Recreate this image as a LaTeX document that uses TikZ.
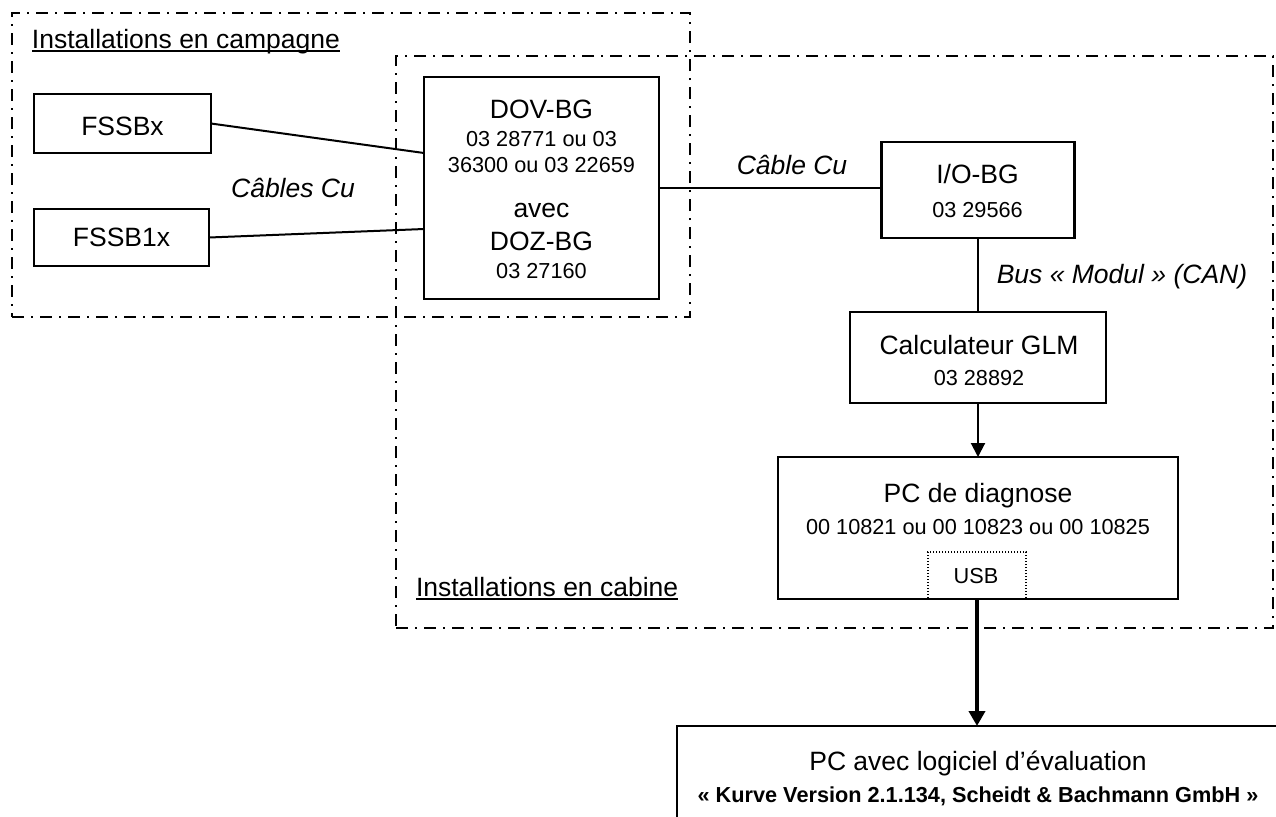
\documentclass[tikz,border=0pt]{standalone}
\usepackage{fontspec}
\setmainfont{Liberation Sans}
\usetikzlibrary{arrows.meta}
\newcommand{\mainsz}{\fontsize{13.25}{16}\selectfont}
\newcommand{\smallsz}{\fontsize{10.85}{13}\selectfont}
\begin{document}
\begin{tikzpicture}[x=0.5pt,y=-0.5pt,
  zone/.style={draw, line width=0.85pt, dash pattern=on 6pt off 3.5pt on 1pt off 3.5pt, inner sep=0pt, outer sep=0pt},
  box/.style={draw, line width=1.1pt, inner sep=0pt, outer sep=0pt},
  usbbox/.style={draw, line width=0.7pt, dash pattern=on 0.6pt off 0.9pt, inner sep=0pt, outer sep=0pt},
  txt/.style={inner sep=0pt, outer sep=0pt, anchor=base, font=\mainsz},
  stxt/.style={inner sep=0pt, outer sep=0pt, anchor=base, font=\smallsz},
  conn/.style={line width=1pt},
  arr/.style={line width=1pt, -{Triangle[width=7pt,length=7pt]}},
  bigarr/.style={line width=2pt, -{Triangle[width=8pt,length=7.5pt]}}
]
\useasboundingbox (0,0) rectangle (1276,816);
\clip (0,0) rectangle (1276,816);

% zones
\node[zone, minimum width=339pt, minimum height=152pt] (campagne) at (351,165) {};
\node[zone, minimum width=438.5pt, minimum height=286pt] (cabine) at (834.5,342) {};

% boxes
\node[box, minimum width=88.5pt, minimum height=29.5pt] (fssbx) at (122.5,123.5) {};
\node[box, minimum width=87.5pt, minimum height=28.5pt] (fssbux) at (121.5,237.5) {};
\node[box, minimum width=117.5pt, minimum height=111pt] (dov) at (541.5,188) {};
\node[box, minimum width=96.5pt, minimum height=48pt] (io) at (978,190) {};
\node[box, minimum width=128pt, minimum height=45.5pt] (calc) at (978,357.5) {};
\node[box, minimum width=200pt, minimum height=71pt] (pcd) at (978,528) {};
\node[usbbox, minimum width=49pt, minimum height=23.5pt] (usb) at (977,575.5) {};
\node[box, minimum width=301pt, minimum height=100pt] (pcavec) at (978,826) {};

% texts
\node[txt, anchor=base west] (lcamp) at (32,48) {Installations en campagne};
\draw[line width=0.9pt] ([yshift=-1.6pt]lcamp.base west) -- ([yshift=-1.6pt]lcamp.base east);
\node[txt, anchor=base west] (lcab) at (416,596) {Installations en cabine};
\draw[line width=0.9pt] ([yshift=-1.6pt]lcab.base west) -- ([yshift=-1.6pt]lcab.base east);

\node[txt] (t1) at (122.5,135) {FSSBx};
\node[txt] (t2) at (121.5,246) {FSSB1x};

\node[txt] (t3) at (541.5,118) {DOV-BG};
\node[stxt] (t4) at (541.5,146) {03 28771 ou 03};
\node[stxt] (t5) at (541.5,172) {36300 ou 03 22659};
\node[txt] (t6) at (541.5,217) {avec};
\node[txt] (t7) at (541.5,250) {DOZ-BG};
\node[stxt] (t8) at (541.5,278) {03 27160};

\node[txt] (t9) at (977.5,183) {I/O-BG};
\node[stxt] (t10) at (977.5,217) {03 29566};

\node[txt] (t11) at (979,354) {Calculateur GLM};
\node[stxt] (t12) at (979,385) {03 28892};

\node[txt] (t13) at (978,502) {PC de diagnose};
\node[stxt] (t14) at (978,534) {00 10821 ou 00 10823 ou 00 10825};
\node[stxt] (t15) at (976,583) {USB};

\node[txt] (t16) at (978,770) {PC avec logiciel d’évaluation};
\node[stxt, font=\smallsz\bfseries] (t17) at (978,802) {« Kurve Version 2.1.134, Scheidt \& Bachmann GmbH »};

\node[txt, font=\mainsz\itshape] (l1) at (293,197) {Câbles Cu};
\node[txt, font=\mainsz\itshape] (l2) at (792,174) {Câble Cu};
\node[txt, font=\mainsz\itshape] (l3) at (1122,283) {Bus « Modul » (CAN)};

% connectors
\draw[conn] (fssbx.east) -- ([yshift=17.5pt]dov.west);
\draw[conn] (fssbux.east) -- ([yshift=-20.5pt]dov.west);
\draw[conn] (dov.east) -- (dov.east -| io.west);
\draw[conn] (io.south) -- (io.south |- calc.north);
\draw[arr] (calc.south) -- (calc.south |- pcd.north);
\draw[bigarr] (usb.south) -- (usb.south |- pcavec.north);
\end{tikzpicture}
\end{document}
